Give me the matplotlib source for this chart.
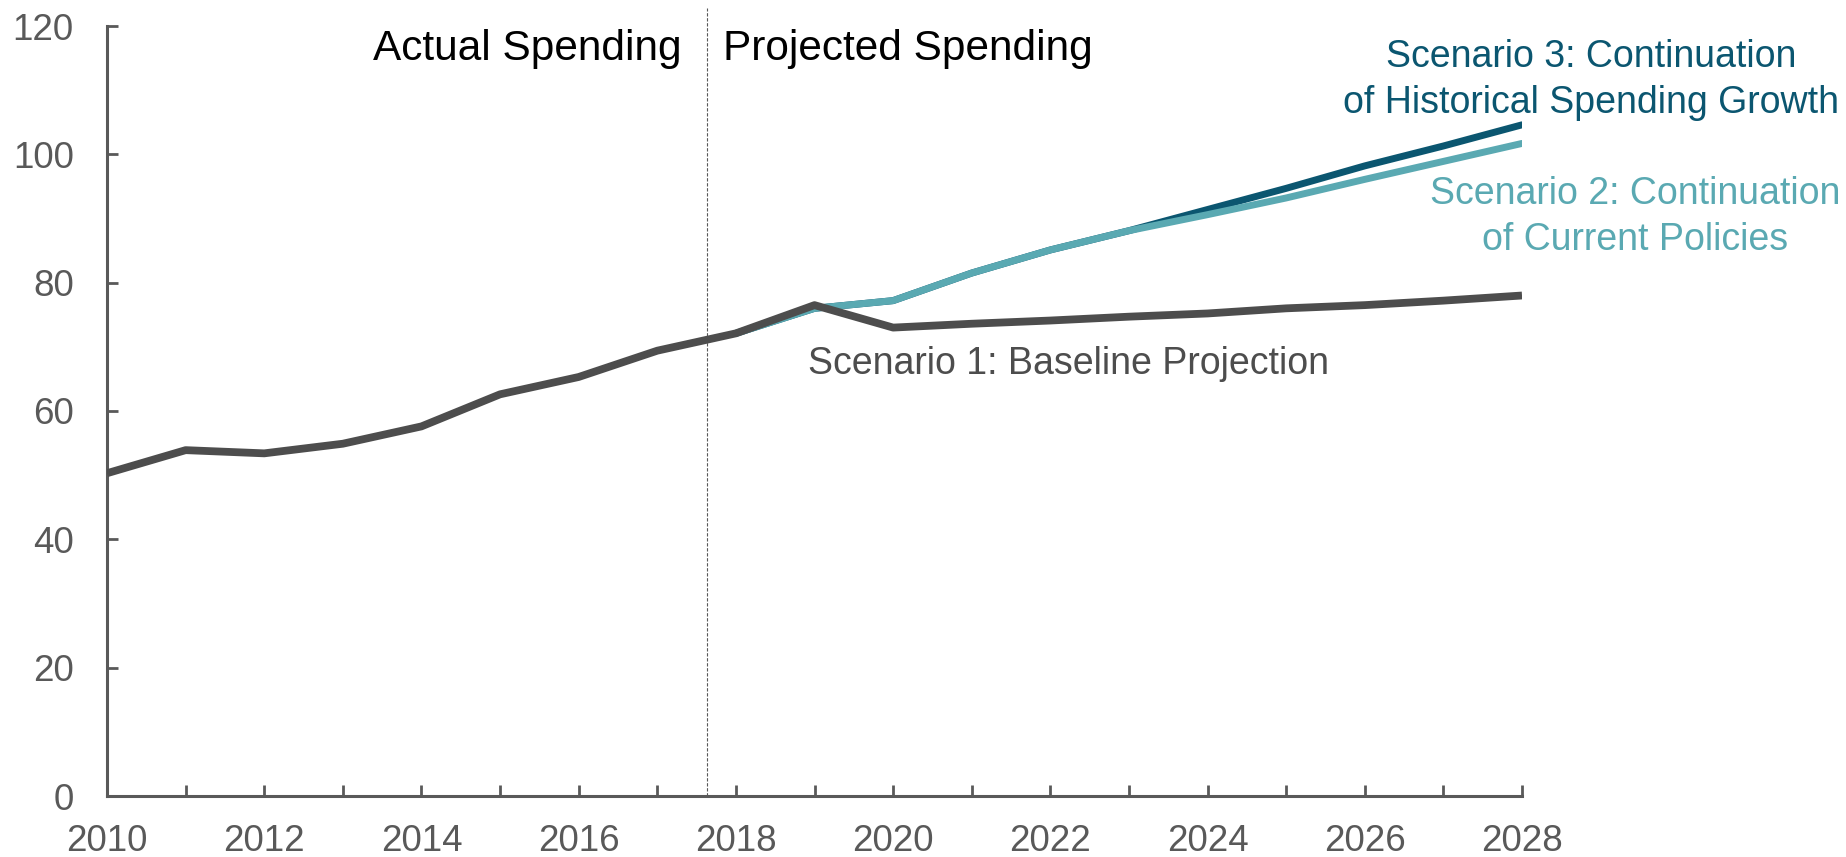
import matplotlib
matplotlib.use("Agg")
import matplotlib.pyplot as plt
from matplotlib.ticker import MultipleLocator

plt.rcParams['font.family'] = ['Liberation Sans', 'DejaVu Sans']

# Data
actual_years = [2010, 2011, 2012, 2013, 2014, 2015, 2016, 2017, 2018]
actual_vals = [50.3, 53.9, 53.4, 54.9, 57.6, 62.6, 65.3, 69.4, 72.1]

proj_years = [2018, 2019, 2020, 2021, 2022, 2023, 2024, 2025, 2026, 2027, 2028]
scen1_vals = [72.1, 76.5, 73.0, 73.6, 74.1, 74.7, 75.2, 76.0, 76.5, 77.2, 78.0]
scen2_vals = [72.1, 76.0, 77.2, 81.5, 85.1, 88.1, 90.6, 93.2, 96.1, 98.9, 101.7]
scen3_vals = [72.1, 76.0, 77.2, 81.5, 85.1, 88.1, 91.4, 94.7, 98.2, 101.3, 104.6]

divider_year = 2017.63
y_ticks = [0, 20, 40, 60, 80, 100, 120]
x_label_ticks = [2010, 2012, 2014, 2016, 2018, 2020, 2022, 2024, 2026, 2028]

GRAY = '#4d4d4d'
AXGRAY = '#595959'
TEAL = '#5aa9b2'
DARKTEAL = '#0b5670'

W, H = 1846, 857
fig = plt.figure(figsize=(W / 100, H / 100), dpi=100)
ax = fig.add_axes([107 / W, 1 - 796 / H, (1522 - 107) / W, (796 - 26) / H])

ax.plot(proj_years, scen3_vals, color=DARKTEAL, lw=5.0, solid_capstyle='round', zorder=2)
ax.plot(proj_years, scen2_vals, color=TEAL, lw=5.0, solid_capstyle='round', zorder=3)
ax.plot(actual_years + proj_years[1:], actual_vals + scen1_vals[1:], color=GRAY, lw=5.6,
        solid_capstyle='butt', zorder=4)

ax.plot([divider_year, divider_year], [0, 122.8], color='#595959', lw=0.8,
        ls=(0, (3, 1.5)), clip_on=False, zorder=1)

ax.set_xlim(2010, 2028)
ax.set_ylim(0, 120)
ax.set_yticks(y_ticks)
ax.set_xticks(x_label_ticks)
ax.xaxis.set_minor_locator(MultipleLocator(1))

for s in ['top', 'right']:
    ax.spines[s].set_visible(False)
for s in ['left', 'bottom']:
    ax.spines[s].set_color(AXGRAY)
    ax.spines[s].set_linewidth(2.2)

ax.tick_params(axis='both', which='both', direction='in', color=AXGRAY, width=2.0,
               length=8, labelcolor=AXGRAY, labelsize=26.5)
ax.tick_params(axis='x', which='major', pad=20)
ax.tick_params(axis='y', which='major', pad=24)

def fx(px):
    return px / W

def fy(py):
    return 1 - py / H

fig.text(fx(527), fy(49), 'Actual Spending', ha='center', va='center', fontsize=30.5, color='black')
fig.text(fx(908), fy(49), 'Projected Spending', ha='center', va='center', fontsize=30.5, color='black')
fig.text(fx(1068), fy(364), 'Scenario 1: Baseline Projection', ha='center', va='center',
         fontsize=27, color=GRAY)
fig.text(fx(1591), fy(80), 'Scenario 3: Continuation\nof Historical Spending Growth',
         ha='center', va='center', multialignment='center', fontsize=27, color=DARKTEAL,
         linespacing=1.33)
fig.text(fx(1635), fy(217), 'Scenario 2: Continuation\nof Current Policies',
         ha='center', va='center', multialignment='center', fontsize=27, color=TEAL,
         linespacing=1.33)

fig.savefig('out.png', dpi=100)
